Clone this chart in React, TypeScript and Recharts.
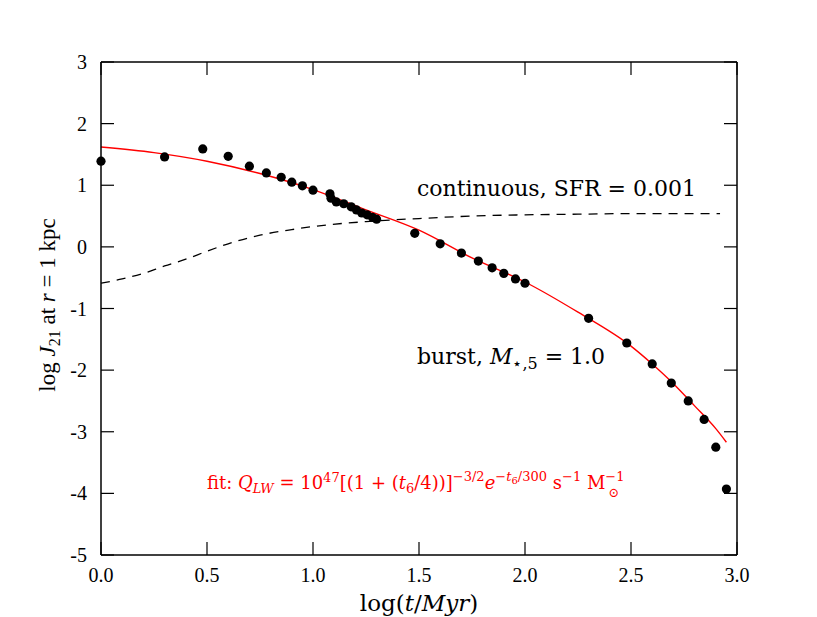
import React from "react";
import {
  ComposedChart,
  Line,
  Scatter,
  XAxis,
  YAxis,
  ReferenceLine,
  Customized,
} from "recharts";

// burst model points: log(t/Myr) vs log J21
const burstLogT = [
  0, 0.3, 0.48, 0.6, 0.7, 0.78, 0.85, 0.9, 0.95, 1.0, 1.08, 1.085, 1.11, 1.145, 1.18, 1.205,
  1.23, 1.255, 1.28, 1.3, 1.48, 1.6, 1.7, 1.78, 1.845, 1.9, 1.955, 2.0, 2.3, 2.48, 2.6,
  2.69, 2.77, 2.845, 2.9, 2.95,
];
const burstLogJ = [
  1.39, 1.46, 1.59, 1.47, 1.31, 1.2, 1.13, 1.05, 0.99, 0.92, 0.86, 0.79, 0.73, 0.7, 0.65, 0.6,
  0.55, 0.52, 0.48, 0.45, 0.22, 0.05, -0.1, -0.23, -0.34, -0.43, -0.52, -0.59, -1.16, -1.56, -1.9,
  -2.21, -2.5, -2.8, -3.25, -3.93,
];

// red fit curve
const fitLogT = [0, 0.25, 0.5, 0.75, 1.0, 1.25, 1.5, 1.75, 2.0, 2.25, 2.5, 2.6, 2.7, 2.8, 2.9, 2.95];
const fitLogJ = [1.62, 1.53, 1.39, 1.19, 0.93, 0.6, 0.27, -0.18, -0.57, -1.06, -1.61, -1.9, -2.22, -2.58, -2.95, -3.17];

// continuous SFR (dashed)
const contLogT = [0, 0.1, 0.2, 0.3, 0.4, 0.5, 0.6, 0.75, 0.9, 1.0, 1.25, 1.5, 1.75, 2.0, 2.25, 2.5, 2.75, 2.92];
const contLogJ = [-0.59, -0.52, -0.43, -0.31, -0.2, -0.07, 0.05, 0.19, 0.28, 0.33, 0.41, 0.46, 0.5, 0.52, 0.53, 0.54, 0.54, 0.54];

const xTicks = [0, 0.5, 1, 1.5, 2, 2.5, 3];
const yTicks = [-5, -4, -3, -2, -1, 0, 1, 2, 3];

const burst = burstLogT.map((x, i) => ({ x, y: burstLogJ[i] }));
const fit = fitLogT.map((x, i) => ({ x, y: fitLogJ[i] }));
const cont = contLogT.map((x, i) => ({ x, y: contLogJ[i] }));

const W = 817;
const H = 617;
const M = { top: 62, right: 80, bottom: 0, left: 41 };
const Y_W = 60;
const X_H = 62;
const PL = M.left + Y_W;
const PR = W - M.right;
const PT = M.top;
const PB = H - M.bottom - X_H;
const TICK = 13;

const SERIF = '"Liberation Serif", "DejaVu Serif", serif';
const WIDE = '"DejaVu Serif", serif';

// tick label + inward tick marks on both sides (matplotlib style)
function LeftTick(p: any) {
  const { x, y, payload } = p;
  return (
    <g>
      <line x1={PL} x2={PL + TICK} y1={y} y2={y} stroke="#000" strokeWidth={1.2} />
      <line x1={PR - TICK} x2={PR} y1={y} y2={y} stroke="#000" strokeWidth={1.2} />
      <text x={x} y={y} dy="0.35em" textAnchor="end" fontSize={20} fontFamily={SERIF} fill="#000">
        {String(payload.value)}
      </text>
    </g>
  );
}

function BottomTick(p: any) {
  const { x, y, payload } = p;
  return (
    <g>
      <line x1={x} x2={x} y1={PB} y2={PB - TICK} stroke="#000" strokeWidth={1.2} />
      <line x1={x} x2={x} y1={PT} y2={PT + TICK} stroke="#000" strokeWidth={1.2} />
      <text x={x} y={y} dy="0.75em" textAnchor="middle" fontSize={20} fontFamily={SERIF} fill="#000">
        {Number(payload.value).toFixed(1)}
      </text>
    </g>
  );
}

function Annotations() {
  return (
    <g>
      <text x={417} y={196} fontSize={22} fontFamily={WIDE} fill="#000">
        continuous, SFR = 0.001
      </text>
      <text x={417} y={364} fontSize={22} fontFamily={WIDE} fill="#000">
        burst, <tspan fontStyle="italic">M</tspan>
        <tspan fontSize={16} dy={5}>⋆,5</tspan>
        <tspan dy={-5}> = 1.0</tspan>
      </text>
      <text x={207} y={489} fontSize={18} fontFamily={WIDE} fill="#ff0000">
        fit: <tspan fontStyle="italic">Q</tspan>
        <tspan fontSize={13} dy={4} fontStyle="italic">LW</tspan>
        <tspan dy={-4}> = 10</tspan>
        <tspan fontSize={13} dy={-7}>47</tspan>
        <tspan dy={7}>[(1 + (</tspan>
        <tspan fontStyle="italic">t</tspan>
        <tspan fontSize={13} dy={4}>6</tspan>
        <tspan dy={-4}>/4))]</tspan>
        <tspan fontSize={13} dy={-8}>−3/2</tspan>
        <tspan dy={8} fontStyle="italic">e</tspan>
        <tspan fontSize={13} dy={-8}>−</tspan>
        <tspan fontSize={13} fontStyle="italic">t</tspan>
        <tspan fontSize={10} dy={3}>6</tspan>
        <tspan fontSize={13} dy={-3}>/300</tspan>
        <tspan dy={8}> s</tspan>
        <tspan fontSize={13} dy={-8}>−1</tspan>
        <tspan dy={8}> M</tspan>
        <tspan fontSize={13} dy={-8}>−1</tspan>
        <tspan fontSize={13} dx={-16} dy={16}>⊙</tspan>
      </text>
      <text
        transform="translate(55, 305) rotate(-90)"
        textAnchor="middle"
        fontSize={23}
        fontFamily={SERIF}
        fill="#000"
      >
        log <tspan fontStyle="italic">J</tspan>
        <tspan fontSize={16} dy={5}>21</tspan>
        <tspan dy={-5}> at </tspan>
        <tspan fontStyle="italic">r</tspan> = 1 kpc
      </text>
      <text x={419} y={611} textAnchor="middle" fontSize={23} fontFamily={WIDE} fill="#000">
        log(<tspan fontStyle="italic">t</tspan>/<tspan fontStyle="italic">Myr</tspan>)
      </text>
    </g>
  );
}

export default function App() {
  return (
    <div style={{ position: "absolute", left: 0, top: 0, background: "#fff" }}>
      <ComposedChart width={W} height={H} margin={M}>
        <XAxis
          type="number"
          dataKey="x"
          domain={[0, 3]}
          ticks={xTicks}
          height={X_H}
          tick={<BottomTick />}
          tickLine={false}
          tickSize={0}
          tickMargin={12}
          axisLine={{ stroke: "#000", strokeWidth: 1.5 }}
        />
        <YAxis
          type="number"
          domain={[-5, 3]}
          ticks={yTicks}
          width={Y_W}
          tick={<LeftTick />}
          tickLine={false}
          tickSize={0}
          tickMargin={14}
          axisLine={{ stroke: "#000", strokeWidth: 1.5 }}
        />
        <ReferenceLine x={3} stroke="#000" strokeWidth={1.5} />
        <ReferenceLine y={3} stroke="#000" strokeWidth={1.5} />
        <Line
          data={cont}
          dataKey="y"
          type="monotone"
          stroke="#000"
          strokeWidth={1.3}
          strokeDasharray="9 7"
          dot={false}
          isAnimationActive={false}
        />
        <Scatter
          data={burst}
          dataKey="y"
          fill="#000"
          shape={(p: any) => <circle cx={p.cx} cy={p.cy} r={4.6} fill="#000" />}
          isAnimationActive={false}
        />
        <Line
          data={fit}
          dataKey="y"
          type="monotone"
          stroke="#ff0000"
          strokeWidth={1.4}
          dot={false}
          isAnimationActive={false}
        />
        <Customized component={Annotations} />
      </ComposedChart>
    </div>
  );
}
